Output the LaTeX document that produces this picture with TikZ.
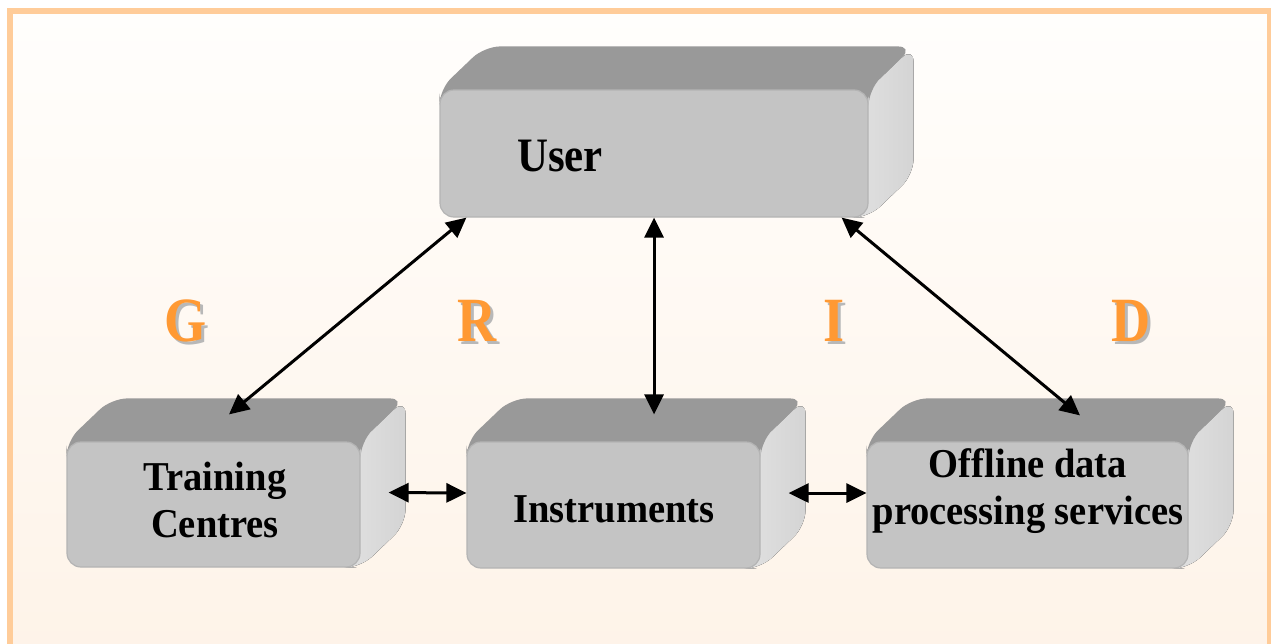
\documentclass[tikz,border=0pt]{standalone}
\usepackage{fontspec}
\setmainfont{Liberation Serif}
\usetikzlibrary{arrows.meta,calc}
\pgfdeclarelayer{bglayer}
\pgfdeclarelayer{extr}
\pgfsetlayers{bglayer,extr,main}
\definecolor{bgtop}{HTML}{FFFEFC}
\definecolor{bgbot}{HTML}{FEF3E8}
\definecolor{frameor}{HTML}{FFCC99}
\definecolor{letteror}{HTML}{FF9933}
\definecolor{frontgray}{HTML}{C4C4C4}
\definecolor{topgray}{HTML}{999999}
\definecolor{sidegray}{HTML}{E2E2E2}
\definecolor{sidegraydark}{HTML}{D4D4D4}
\definecolor{edgegray}{HTML}{B4B4B4}
\definecolor{shadowgray}{HTML}{B8B8B8}
\tikzset{
  face/.style={draw=edgegray, line width=1.2pt, fill=frontgray, rounded corners=14pt, inner sep=0pt},
  topface/.style={fill=topgray, rounded corners=16pt},
  sideface/.style={left color=sidegray, right color=sidegraydark, rounded corners=16pt},
  lbl/.style={font=\bfseries\fontsize{41}{47}\selectfont, align=center, inner sep=0pt, xscale=0.94},
  biarrow/.style={line width=3pt, {Triangle[length=20pt,width=19pt]}-{Triangle[length=20pt,width=19pt]}},
  bigletter/.style={font=\bfseries\fontsize{63}{66}\selectfont, inner sep=0pt, xscale=0.86},
}
\newcommand{\extrudebox}[1]{%
  \fill[sideface] (#1.north east) -- ($(#1.north east)+(45,-43)$) -- ($(#1.south east)+(45,-43)$) -- (#1.south east) -- ($(#1.south east)+(-20,0)$) -- ($(#1.north east)+(-20,0)$) -- cycle;
  \fill[topface] (#1.north west) -- ($(#1.north west)+(45,-43)$) -- ($(#1.north east)+(45,-43)$) -- (#1.north east) -- ($(#1.north east)+(0,20)$) -- ($(#1.north west)+(0,20)$) -- cycle;
}
\newcommand{\shadowletter}[3]{%
  \node[bigletter, text=shadowgray] (#1s) at ($(#2)+(3,3)$) {#3};
  \node[bigletter, text=letteror] (#1) at (#2) {#3};
}
\begin{document}
\begin{tikzpicture}[x=1pt,y=-1pt]
\useasboundingbox (0,0) rectangle (1271,643);
\begin{pgfonlayer}{bglayer}
  \begin{scope}
    \clip (0,0) rectangle (1271,643);
    \fill[white] (0,0) rectangle (1271,643);
    \shade[top color=bgtop, bottom color=bgbot] (10,11) rectangle (1270,660);
    \draw[frameor, line width=6pt] (10,11) rectangle (1270,660);
  \end{scope}
\end{pgfonlayer}

% front faces
\node[face, minimum width=428pt, minimum height=127pt] (user) at (654,153.5) {};
\node[face, minimum width=293pt, minimum height=125pt] (tc) at (213.5,504.5) {};
\node[face, minimum width=293pt, minimum height=126pt] (ins) at (613.5,505) {};
\node[face, minimum width=321pt, minimum height=126pt] (off) at (1027.5,505) {};

\begin{pgfonlayer}{extr}
  \extrudebox{user}
  \extrudebox{tc}
  \extrudebox{ins}
  \extrudebox{off}
\end{pgfonlayer}

% labels
\node[lbl, font=\bfseries\fontsize{48}{52}\selectfont, xscale=0.95] (userlbl) at (560,156) {User};
\node[lbl] (tclbl) at (215,500) {Training\\Centres};
\node[lbl] (inslbl) at (614,509) {Instruments};
\node[lbl] (offlbl) at (1028,491) {Offline data\\processing services};

% GRID letters
\shadowletter{lg}{186,321}{G}
\shadowletter{lr}{477,321}{R}
\shadowletter{li}{834,321}{I}
\shadowletter{ld}{1131,321}{D}

% connectors
\coordinate (tctop) at ($(tc.north)+(15.5,-27)$);
\coordinate (instop) at ($(ins.north)+(40.5,-27)$);
\coordinate (offtop) at ($(off.north)+(52.5,-26)$);
\coordinate (tcside) at ($(tc.east)+(28,-12)$);
\coordinate (insside) at ($(ins.east)+(28,-12)$);
\draw[biarrow] ($(user.south west)+(27,0)$) -- (tctop);
\draw[biarrow] (user.south) -- (instop);
\draw[biarrow] ($(user.south east)+(-27,0)$) -- (offtop);
\draw[biarrow] (tcside) -- ($(ins.west)+(0,-12)$);
\draw[biarrow] (insside) -- ($(off.west)+(0,-12)$);
\end{tikzpicture}
\end{document}
